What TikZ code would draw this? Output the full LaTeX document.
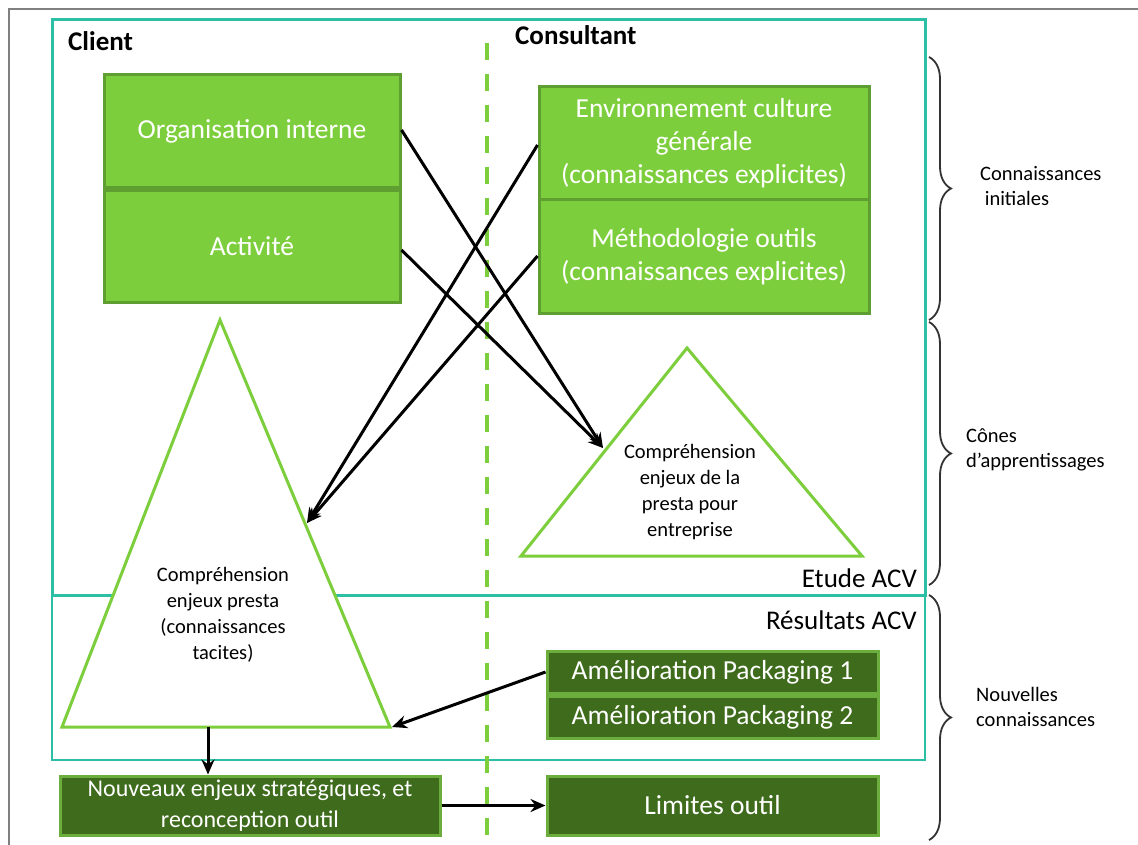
\documentclass[tikz,border=0pt]{standalone}
\usepackage{fontspec}
\setmainfont{Carlito}
\usetikzlibrary{arrows.meta,decorations.pathreplacing}
\definecolor{lgreen}{HTML}{7DCE3C}
\definecolor{lgborder}{HTML}{5F9E30}
\definecolor{dgreen}{HTML}{3E6C1C}
\definecolor{dgborder}{HTML}{6BAE3D}
\definecolor{tealc}{HTML}{2DBFA5}
\definecolor{framegray}{HTML}{808080}
\begin{document}
\begin{tikzpicture}[x=1pt,y=-1pt,
  lbox/.style={draw=lgborder, line width=3pt, fill=lgreen, text=white, align=center,
    font=\fontsize{27.5}{33}\selectfont, inner sep=0pt},
  dbox/.style={draw=dgborder, line width=3pt, fill=dgreen, text=white, align=center,
    font=\fontsize{27.5}{33}\selectfont, inner sep=0pt},
  tri/.style={draw=lgreen, line width=3pt, fill=white},
  tritxt/.style={align=center, font=\fontsize{20.5}{26}\selectfont, inner sep=0pt},
  sidetxt/.style={align=left, font=\fontsize{20.5}{25}\selectfont, inner sep=0pt, anchor=west},
  head/.style={font=\bfseries\fontsize{27}{32}\selectfont, inner sep=0pt},
  acv/.style={font=\fontsize{27}{32}\selectfont, inner sep=0pt, anchor=east},
  conn/.style={draw=black, line width=3pt, -{Stealth[length=15pt,width=13pt]}},
  bracestyle/.style={draw=black!80, line width=1.8pt, decorate,
    decoration={brace, amplitude=22pt, aspect=0.5}},
]
\useasboundingbox (0,0) rectangle (1138,845);
% frame
\draw[framegray, line width=1.5pt] (1138,9) -- (9,9) -- (9,845);
% teal boxes
\draw[tealc, line width=3pt] (52,20) rectangle (925,595);
\draw[tealc, line width=2.6pt] (52,595) rectangle (925,760);
% dashed divider
\draw[lgreen, line width=4.5pt, dash pattern=on 17pt off 14pt] (487,43) -- (487,835);
% headings
\node[head, anchor=west] (client) at (68,41) {Client};
\node[head, anchor=west] (consultant) at (515,35) {Consultant};
\node[acv] (etude) at (917,578) {Etude ACV};
\node[acv] (resultats) at (917,620) {Résultats ACV};
% triangles
\draw[tri] (220,320) -- (390,727) -- (62,727) -- cycle;
\draw[tri] (687,348) -- (862,556) -- (521,556) -- cycle;
\node[tritxt] (tleft) at (223,615) {Compréhension\\enjeux presta\\(connaissances\\tacites)};
\node[tritxt] (tright) at (690,492) {Compréhension\\enjeux de la\\presta pour\\entreprise};
\coordinate (tlin) at (307,523);
\coordinate (trin) at (603,448);
\coordinate (tlbase) at (392,727);
\coordinate (tlbot) at (208,727);
% client boxes
\node[lbox, minimum width=296pt, minimum height=113pt] (org) at (252,131.5) {Organisation interne};
\node[lbox, minimum width=296pt, minimum height=111pt] (act) at (252,246.5) {Activité};
% consultant boxes
\node[lbox, minimum width=330pt, minimum height=113pt] (env) at (704,143.5) {Environnement culture\\générale\\(connaissances explicites)};
\node[lbox, minimum width=330pt, minimum height=113pt] (meth) at (704,256.5) {Méthodologie outils\\(connaissances explicites)};
% results
\node[dbox, minimum width=331pt, minimum height=42pt] (am1) at (712.5,672) {Amélioration Packaging 1};
\node[dbox, minimum width=331pt, minimum height=42pt] (am2) at (712.5,717) {Amélioration Packaging 2};
\node[dbox, minimum width=380pt, minimum height=59pt, font=\fontsize{24}{31}\selectfont] (nouv) at (250,805.5) {Nouveaux enjeux stratégiques, et\\reconception outil};
\node[dbox, minimum width=331pt, minimum height=59pt] (lim) at (712.5,805.5) {Limites outil};
% connectors
\draw[conn] (org.east |- 0,130) -- (trin);
\draw[conn] (act.east |- 0,250) -- (trin);
\draw[conn] (env.west |- 0,145) -- (tlin);
\draw[conn] (meth.west |- 0,256) -- (tlin);
\draw[conn] (am1.west) -- (tlbase);
\draw[conn] (tlbot) -- (nouv.north -| tlbot);
\draw[conn] (nouv.east) -- (lim.west);
% braces
\draw[bracestyle] (929,57) -- (929,320);
\draw[bracestyle] (929,322) -- (929,585);
\draw[bracestyle] (929,595) -- (929,840);
\node[sidetxt] (lab1) at (980,186) {Connaissances\\\ initiales};
\node[sidetxt] (lab2) at (966,450) {Cônes\\d’apprentissages};
\node[sidetxt] (lab3) at (976,707) {Nouvelles\\connaissances};
\end{tikzpicture}
\end{document}
